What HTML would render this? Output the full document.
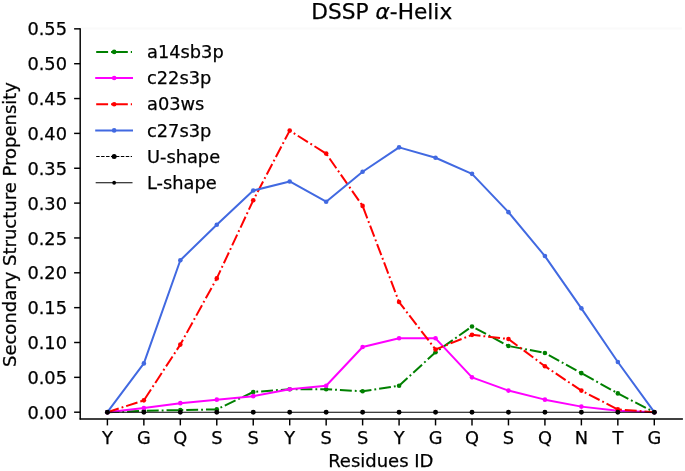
<!DOCTYPE html>
<html><head><meta charset="utf-8"><title>DSSP alpha-Helix</title>
<style>
html,body{margin:0;padding:0;background:#fff;}
svg{display:block;will-change:transform;}
text{font-family:'DejaVu Sans','Liberation Sans',sans-serif;fill:#000;stroke:#000;stroke-width:0.25px;}
</style></head><body>
<svg width="685" height="471" viewBox="0 0 685 471">
<rect x="0" y="0" width="685" height="471" fill="#ffffff"/>
<line x1="81" y1="28.6" x2="682" y2="28.6" stroke="#fafafa" stroke-width="2"/>
<polyline points="107.40,412.20 143.86,410.81 180.32,410.11 216.78,409.41 253.24,391.99 289.70,389.20 326.16,389.20 362.62,391.29 399.08,385.71 435.54,352.26 472.00,326.47 508.46,345.99 544.92,352.95 581.38,373.17 617.84,393.38 654.30,412.20" fill="none" stroke="#008000" stroke-width="2.0" stroke-dasharray="11.9 2.98 1.86 2.98" stroke-linejoin="round"/>
<circle cx="107.40" cy="412.20" r="2.3" fill="#008000"/>
<circle cx="143.86" cy="410.81" r="2.3" fill="#008000"/>
<circle cx="180.32" cy="410.11" r="2.3" fill="#008000"/>
<circle cx="216.78" cy="409.41" r="2.3" fill="#008000"/>
<circle cx="253.24" cy="391.99" r="2.3" fill="#008000"/>
<circle cx="289.70" cy="389.20" r="2.3" fill="#008000"/>
<circle cx="326.16" cy="389.20" r="2.3" fill="#008000"/>
<circle cx="362.62" cy="391.29" r="2.3" fill="#008000"/>
<circle cx="399.08" cy="385.71" r="2.3" fill="#008000"/>
<circle cx="435.54" cy="352.26" r="2.3" fill="#008000"/>
<circle cx="472.00" cy="326.47" r="2.3" fill="#008000"/>
<circle cx="508.46" cy="345.99" r="2.3" fill="#008000"/>
<circle cx="544.92" cy="352.95" r="2.3" fill="#008000"/>
<circle cx="581.38" cy="373.17" r="2.3" fill="#008000"/>
<circle cx="617.84" cy="393.38" r="2.3" fill="#008000"/>
<circle cx="654.30" cy="412.20" r="2.3" fill="#008000"/>
<polyline points="107.40,412.20 143.86,408.02 180.32,403.14 216.78,399.65 253.24,396.17 289.70,389.20 326.16,385.71 362.62,347.03 399.08,338.32 435.54,338.32 472.00,377.35 508.46,390.59 544.92,399.65 581.38,406.62 617.84,410.81 654.30,412.20" fill="none" stroke="#ff00ff" stroke-width="2.0" stroke-linejoin="round"/>
<circle cx="107.40" cy="412.20" r="2.3" fill="#ff00ff"/>
<circle cx="143.86" cy="408.02" r="2.3" fill="#ff00ff"/>
<circle cx="180.32" cy="403.14" r="2.3" fill="#ff00ff"/>
<circle cx="216.78" cy="399.65" r="2.3" fill="#ff00ff"/>
<circle cx="253.24" cy="396.17" r="2.3" fill="#ff00ff"/>
<circle cx="289.70" cy="389.20" r="2.3" fill="#ff00ff"/>
<circle cx="326.16" cy="385.71" r="2.3" fill="#ff00ff"/>
<circle cx="362.62" cy="347.03" r="2.3" fill="#ff00ff"/>
<circle cx="399.08" cy="338.32" r="2.3" fill="#ff00ff"/>
<circle cx="435.54" cy="338.32" r="2.3" fill="#ff00ff"/>
<circle cx="472.00" cy="377.35" r="2.3" fill="#ff00ff"/>
<circle cx="508.46" cy="390.59" r="2.3" fill="#ff00ff"/>
<circle cx="544.92" cy="399.65" r="2.3" fill="#ff00ff"/>
<circle cx="581.38" cy="406.62" r="2.3" fill="#ff00ff"/>
<circle cx="617.84" cy="410.81" r="2.3" fill="#ff00ff"/>
<circle cx="654.30" cy="412.20" r="2.3" fill="#ff00ff"/>
<polyline points="107.40,412.20 143.86,400.35 180.32,344.59 216.78,278.38 253.24,200.31 289.70,130.61 326.16,153.61 362.62,205.89 399.08,302.07 435.54,349.47 472.00,334.83 508.46,339.01 544.92,366.20 581.38,390.59 617.84,409.41 654.30,412.20" fill="none" stroke="#ff0000" stroke-width="2.0" stroke-dasharray="11.9 2.98 1.86 2.98" stroke-linejoin="round"/>
<circle cx="107.40" cy="412.20" r="2.3" fill="#ff0000"/>
<circle cx="143.86" cy="400.35" r="2.3" fill="#ff0000"/>
<circle cx="180.32" cy="344.59" r="2.3" fill="#ff0000"/>
<circle cx="216.78" cy="278.38" r="2.3" fill="#ff0000"/>
<circle cx="253.24" cy="200.31" r="2.3" fill="#ff0000"/>
<circle cx="289.70" cy="130.61" r="2.3" fill="#ff0000"/>
<circle cx="326.16" cy="153.61" r="2.3" fill="#ff0000"/>
<circle cx="362.62" cy="205.89" r="2.3" fill="#ff0000"/>
<circle cx="399.08" cy="302.07" r="2.3" fill="#ff0000"/>
<circle cx="435.54" cy="349.47" r="2.3" fill="#ff0000"/>
<circle cx="472.00" cy="334.83" r="2.3" fill="#ff0000"/>
<circle cx="508.46" cy="339.01" r="2.3" fill="#ff0000"/>
<circle cx="544.92" cy="366.20" r="2.3" fill="#ff0000"/>
<circle cx="581.38" cy="390.59" r="2.3" fill="#ff0000"/>
<circle cx="617.84" cy="409.41" r="2.3" fill="#ff0000"/>
<circle cx="654.30" cy="412.20" r="2.3" fill="#ff0000"/>
<polyline points="107.40,412.20 143.86,363.41 180.32,260.25 216.78,224.71 253.24,190.55 289.70,181.49 326.16,201.71 362.62,171.74 399.08,147.34 435.54,157.79 472.00,173.83 508.46,212.16 544.92,256.07 581.38,308.35 617.84,362.02 654.30,412.20" fill="none" stroke="#4169e1" stroke-width="2.0" stroke-linejoin="round"/>
<circle cx="107.40" cy="412.20" r="2.3" fill="#4169e1"/>
<circle cx="143.86" cy="363.41" r="2.3" fill="#4169e1"/>
<circle cx="180.32" cy="260.25" r="2.3" fill="#4169e1"/>
<circle cx="216.78" cy="224.71" r="2.3" fill="#4169e1"/>
<circle cx="253.24" cy="190.55" r="2.3" fill="#4169e1"/>
<circle cx="289.70" cy="181.49" r="2.3" fill="#4169e1"/>
<circle cx="326.16" cy="201.71" r="2.3" fill="#4169e1"/>
<circle cx="362.62" cy="171.74" r="2.3" fill="#4169e1"/>
<circle cx="399.08" cy="147.34" r="2.3" fill="#4169e1"/>
<circle cx="435.54" cy="157.79" r="2.3" fill="#4169e1"/>
<circle cx="472.00" cy="173.83" r="2.3" fill="#4169e1"/>
<circle cx="508.46" cy="212.16" r="2.3" fill="#4169e1"/>
<circle cx="544.92" cy="256.07" r="2.3" fill="#4169e1"/>
<circle cx="581.38" cy="308.35" r="2.3" fill="#4169e1"/>
<circle cx="617.84" cy="362.02" r="2.3" fill="#4169e1"/>
<circle cx="654.30" cy="412.20" r="2.3" fill="#4169e1"/>
<polyline points="107.40,412.20 143.86,412.20 180.32,412.20 216.78,412.20 253.24,412.20 289.70,412.20 326.16,412.20 362.62,412.20 399.08,412.20 435.54,412.20 472.00,412.20 508.46,412.20 544.92,412.20 581.38,412.20 617.84,412.20 654.30,412.20" fill="none" stroke="#000000" stroke-width="1.1" stroke-linejoin="round"/>
<circle cx="107.40" cy="412.20" r="2.45" fill="#000000"/>
<circle cx="143.86" cy="412.20" r="2.45" fill="#000000"/>
<circle cx="180.32" cy="412.20" r="2.45" fill="#000000"/>
<circle cx="216.78" cy="412.20" r="2.45" fill="#000000"/>
<circle cx="253.24" cy="412.20" r="2.45" fill="#000000"/>
<circle cx="289.70" cy="412.20" r="2.45" fill="#000000"/>
<circle cx="326.16" cy="412.20" r="2.45" fill="#000000"/>
<circle cx="362.62" cy="412.20" r="2.45" fill="#000000"/>
<circle cx="399.08" cy="412.20" r="2.45" fill="#000000"/>
<circle cx="435.54" cy="412.20" r="2.45" fill="#000000"/>
<circle cx="472.00" cy="412.20" r="2.45" fill="#000000"/>
<circle cx="508.46" cy="412.20" r="2.45" fill="#000000"/>
<circle cx="544.92" cy="412.20" r="2.45" fill="#000000"/>
<circle cx="581.38" cy="412.20" r="2.45" fill="#000000"/>
<circle cx="617.84" cy="412.20" r="2.45" fill="#000000"/>
<circle cx="654.30" cy="412.20" r="2.45" fill="#000000"/>
<line x1="80.2" y1="28.25" x2="80.2" y2="419.6" stroke="#000" stroke-width="1.45"/>
<line x1="79.60000000000001" y1="419.0" x2="682.9" y2="419.0" stroke="#000" stroke-width="1.45"/>
<line x1="74.10" y1="412.20" x2="80.2" y2="412.20" stroke="#000" stroke-width="1.45"/>
<text x="67.00" y="418.80" font-size="17.8" text-anchor="end">0.00</text>
<line x1="74.10" y1="377.35" x2="80.2" y2="377.35" stroke="#000" stroke-width="1.45"/>
<text x="67.00" y="383.95" font-size="17.8" text-anchor="end">0.05</text>
<line x1="74.10" y1="342.50" x2="80.2" y2="342.50" stroke="#000" stroke-width="1.45"/>
<text x="67.00" y="349.10" font-size="17.8" text-anchor="end">0.10</text>
<line x1="74.10" y1="307.65" x2="80.2" y2="307.65" stroke="#000" stroke-width="1.45"/>
<text x="67.00" y="314.25" font-size="17.8" text-anchor="end">0.15</text>
<line x1="74.10" y1="272.80" x2="80.2" y2="272.80" stroke="#000" stroke-width="1.45"/>
<text x="67.00" y="279.40" font-size="17.8" text-anchor="end">0.20</text>
<line x1="74.10" y1="237.95" x2="80.2" y2="237.95" stroke="#000" stroke-width="1.45"/>
<text x="67.00" y="244.55" font-size="17.8" text-anchor="end">0.25</text>
<line x1="74.10" y1="203.10" x2="80.2" y2="203.10" stroke="#000" stroke-width="1.45"/>
<text x="67.00" y="209.70" font-size="17.8" text-anchor="end">0.30</text>
<line x1="74.10" y1="168.25" x2="80.2" y2="168.25" stroke="#000" stroke-width="1.45"/>
<text x="67.00" y="174.85" font-size="17.8" text-anchor="end">0.35</text>
<line x1="74.10" y1="133.40" x2="80.2" y2="133.40" stroke="#000" stroke-width="1.45"/>
<text x="67.00" y="140.00" font-size="17.8" text-anchor="end">0.40</text>
<line x1="74.10" y1="98.55" x2="80.2" y2="98.55" stroke="#000" stroke-width="1.45"/>
<text x="67.00" y="105.15" font-size="17.8" text-anchor="end">0.45</text>
<line x1="74.10" y1="63.70" x2="80.2" y2="63.70" stroke="#000" stroke-width="1.45"/>
<text x="67.00" y="70.30" font-size="17.8" text-anchor="end">0.50</text>
<line x1="74.10" y1="28.85" x2="80.2" y2="28.85" stroke="#000" stroke-width="1.45"/>
<text x="67.00" y="35.45" font-size="17.8" text-anchor="end">0.55</text>
<line x1="107.40" y1="419.0" x2="107.40" y2="425.40" stroke="#000" stroke-width="1.45"/>
<text x="107.40" y="443.8" font-size="17.8" text-anchor="middle">Y</text>
<line x1="143.86" y1="419.0" x2="143.86" y2="425.40" stroke="#000" stroke-width="1.45"/>
<text x="143.86" y="443.8" font-size="17.8" text-anchor="middle">G</text>
<line x1="180.32" y1="419.0" x2="180.32" y2="425.40" stroke="#000" stroke-width="1.45"/>
<text x="180.32" y="443.8" font-size="17.8" text-anchor="middle">Q</text>
<line x1="216.78" y1="419.0" x2="216.78" y2="425.40" stroke="#000" stroke-width="1.45"/>
<text x="216.78" y="443.8" font-size="17.8" text-anchor="middle">S</text>
<line x1="253.24" y1="419.0" x2="253.24" y2="425.40" stroke="#000" stroke-width="1.45"/>
<text x="253.24" y="443.8" font-size="17.8" text-anchor="middle">S</text>
<line x1="289.70" y1="419.0" x2="289.70" y2="425.40" stroke="#000" stroke-width="1.45"/>
<text x="289.70" y="443.8" font-size="17.8" text-anchor="middle">Y</text>
<line x1="326.16" y1="419.0" x2="326.16" y2="425.40" stroke="#000" stroke-width="1.45"/>
<text x="326.16" y="443.8" font-size="17.8" text-anchor="middle">S</text>
<line x1="362.62" y1="419.0" x2="362.62" y2="425.40" stroke="#000" stroke-width="1.45"/>
<text x="362.62" y="443.8" font-size="17.8" text-anchor="middle">S</text>
<line x1="399.08" y1="419.0" x2="399.08" y2="425.40" stroke="#000" stroke-width="1.45"/>
<text x="399.08" y="443.8" font-size="17.8" text-anchor="middle">Y</text>
<line x1="435.54" y1="419.0" x2="435.54" y2="425.40" stroke="#000" stroke-width="1.45"/>
<text x="435.54" y="443.8" font-size="17.8" text-anchor="middle">G</text>
<line x1="472.00" y1="419.0" x2="472.00" y2="425.40" stroke="#000" stroke-width="1.45"/>
<text x="472.00" y="443.8" font-size="17.8" text-anchor="middle">Q</text>
<line x1="508.46" y1="419.0" x2="508.46" y2="425.40" stroke="#000" stroke-width="1.45"/>
<text x="508.46" y="443.8" font-size="17.8" text-anchor="middle">S</text>
<line x1="544.92" y1="419.0" x2="544.92" y2="425.40" stroke="#000" stroke-width="1.45"/>
<text x="544.92" y="443.8" font-size="17.8" text-anchor="middle">Q</text>
<line x1="581.38" y1="419.0" x2="581.38" y2="425.40" stroke="#000" stroke-width="1.45"/>
<text x="581.38" y="443.8" font-size="17.8" text-anchor="middle">N</text>
<line x1="617.84" y1="419.0" x2="617.84" y2="425.40" stroke="#000" stroke-width="1.45"/>
<text x="617.84" y="443.8" font-size="17.8" text-anchor="middle">T</text>
<line x1="654.30" y1="419.0" x2="654.30" y2="425.40" stroke="#000" stroke-width="1.45"/>
<text x="654.30" y="443.8" font-size="17.8" text-anchor="middle">G</text>
<text x="380.8" y="467.3" font-size="18.0" text-anchor="middle">Residues ID</text>
<text transform="translate(16.2,224.5) rotate(-90)" font-size="18.0" text-anchor="middle">Secondary Structure Propensity</text>
<text x="381.8" y="18.5" font-size="21.7" text-anchor="middle">DSSP <tspan font-style="italic">α</tspan>-Helix</text>
<line x1="96.2" y1="51.90" x2="132.0" y2="51.90" stroke="#008000" stroke-width="2.0" stroke-dasharray="11.9 2.98 1.86 2.98"/>
<circle cx="114.15" cy="51.90" r="2.3" fill="#008000"/>
<text x="147.0" y="58.15" font-size="17.8">a14sb3p</text>
<line x1="96.2" y1="78.07" x2="132.0" y2="78.07" stroke="#ff00ff" stroke-width="2.0" stroke-linecap="square"/>
<circle cx="114.15" cy="78.07" r="2.3" fill="#ff00ff"/>
<text x="147.0" y="84.32" font-size="17.8">c22s3p</text>
<line x1="96.2" y1="104.24" x2="132.0" y2="104.24" stroke="#ff0000" stroke-width="2.0" stroke-dasharray="11.9 2.98 1.86 2.98"/>
<circle cx="114.15" cy="104.24" r="2.3" fill="#ff0000"/>
<text x="147.0" y="110.49" font-size="17.8">a03ws</text>
<line x1="96.2" y1="130.41" x2="132.0" y2="130.41" stroke="#4169e1" stroke-width="2.0" stroke-linecap="square"/>
<circle cx="114.15" cy="130.41" r="2.3" fill="#4169e1"/>
<text x="147.0" y="136.66" font-size="17.8">c27s3p</text>
<line x1="96.2" y1="156.58" x2="132.0" y2="156.58" stroke="#000" stroke-width="1.05" stroke-dasharray="3.44 1.49"/>
<circle cx="114.15" cy="156.58" r="2.5" fill="#000"/>
<text x="147.0" y="162.83" font-size="17.8">U-shape</text>
<line x1="96.2" y1="182.75" x2="132.0" y2="182.75" stroke="#000" stroke-width="1.05" stroke-linecap="square"/>
<circle cx="114.15" cy="182.75" r="1.9" fill="#000"/>
<text x="147.0" y="189.00" font-size="17.8">L-shape</text>
</svg>
</body></html>
